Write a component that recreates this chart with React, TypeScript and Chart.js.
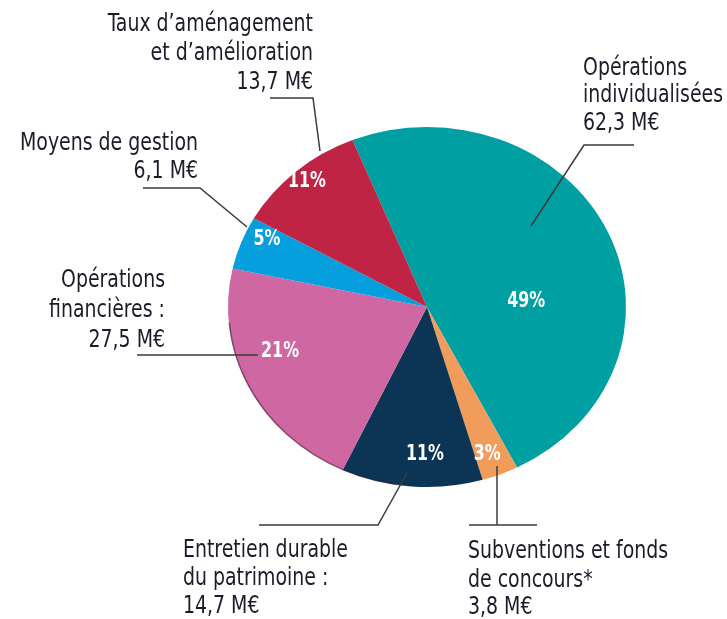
import React, { useEffect, useRef } from "react";
import { Chart, registerables } from "chart.js";

Chart.register(...registerables);

// ---- data ----
const CATEGORIES = [
  "Opérations individualisées",
  "Subventions et fonds de concours*",
  "Entretien durable du patrimoine",
  "Opérations financières",
  "Moyens de gestion",
  "Taux d’aménagement et d’amélioration",
];
const VALUES = [62.3, 3.8, 14.7, 27.5, 6.1, 13.7]; // M€
const CALLOUT_TEXT = [
  ["Opérations", "individualisées", "62,3 M€"],
  ["Subventions et fonds", "de concours*", "3,8 M€"],
  ["Entretien durable", "du patrimoine :", "14,7 M€"],
  ["Opérations", "financières :", "27,5 M€"],
  ["Moyens de gestion", "6,1 M€"],
  ["Taux d’aménagement", "et d’amélioration", "13,7 M€"],
];

// ---- styles / layout ----
const COLORS = ["#00A0A2", "#F19C5A", "#0B3455", "#CF67A2", "#069FDD", "#BF2445"];
const ROTATION = -22;
const W = 727;
const H = 619;
const CX = 427;
const CY = 307;
const RX = 199;
const RY = 180;
const YS = RY / RX;
const FONT = '"Liberation Sans Narrow", "DejaVu Sans Condensed", "Roboto Condensed", "Noto Sans", Roboto, sans-serif';
const TEXT_COLOR = "#1b1c2a";
const LINE_COLOR = "#3b3b3b";

// percent label placement: angle offset (deg) from slice mid, radius fraction
const PCT_PLACE = [
  [20.1, 0.5],
  [1.1, 0.865],
  [-3.7, 0.81],
  [8.4, 0.776],
  [4.5, 0.89],
  [0.7, 0.928],
];

// callout text: x, align, baselines
const CALLOUT_POS: [number, CanvasTextAlign, number[]][] = [
  [583, "left", [75, 102, 130]],
  [468, "left", [558, 587, 614]],
  [183, "left", [557, 585, 613]],
  [165, "right", [287, 317, 347]],
  [198, "right", [150, 178]],
  [313, "right", [31, 60, 89]],
];
const LEADERS: number[][][] = [
  [[634, 145], [584, 145], [531, 226]],
  [[469, 525], [537, 525]],
  [[259, 525], [378, 525], [407, 473]],
  [[137, 355], [258, 355]],
  [[143, 188], [200, 188], [247, 227]],
  [[270, 98], [313, 98], [320, 151]],
];
const LEADER_EXTRA: number[][][] = [[], [[497, 525], [497, 466]], [], [], [], []];

const ellipsePlugin = {
  id: "ellipse",
  beforeDatasetsDraw(chart: any) {
    const ctx = chart.ctx;
    ctx.save();
    ctx.translate(CX, CY);
    ctx.scale(1, YS);
    ctx.translate(-CX, -CY);
  },
  afterDatasetsDraw(chart: any) {
    const ctx = chart.ctx;
    const arc = chart.getDatasetMeta(0).data[0];
    if (arc) {
      const r = arc.outerRadius;
      ctx.beginPath();
      ctx.arc(arc.x, arc.y, r - 0.5, ((185 - 90) * Math.PI) / 180, ((265 - 90) * Math.PI) / 180);
      ctx.strokeStyle = "rgba(60,25,55,0.5)";
      ctx.lineWidth = 1.6;
      ctx.stroke();
    }
    ctx.restore();
  },
};

const labelPlugin = {
  id: "labels",
  afterDraw(chart: any) {
    const ctx = chart.ctx;
    const meta = chart.getDatasetMeta(0);
    const total = VALUES.reduce((a, b) => a + b, 0);

    // percent labels
    ctx.save();
    ctx.font = `bold 22px ${FONT}`;
    const pctScale = 38 / ctx.measureText("49%").width;
    meta.data.forEach((arc: any, i: number) => {
      const mid = (arc.startAngle + arc.endAngle) / 2 + (PCT_PLACE[i][0] * Math.PI) / 180;
      const r = arc.outerRadius * PCT_PLACE[i][1];
      const x = arc.x + r * Math.cos(mid);
      const y = arc.y + r * Math.sin(mid) * YS;
      const txt = Math.round((VALUES[i] / total) * 100) + "%";
      ctx.save();
      ctx.translate(x, y);
      ctx.scale(pctScale, 1);
      ctx.fillStyle = "#ffffff";
      ctx.textAlign = "center";
      ctx.textBaseline = "middle";
      ctx.fillText(txt, 0, 1);
      ctx.restore();
    });
    ctx.restore();

    // leaders
    ctx.save();
    ctx.strokeStyle = LINE_COLOR;
    ctx.lineWidth = 1.5;
    [...LEADERS, ...LEADER_EXTRA].forEach((pts) => {
      if (!pts.length) return;
      ctx.beginPath();
      ctx.moveTo(pts[0][0], pts[0][1]);
      for (let k = 1; k < pts.length; k++) ctx.lineTo(pts[k][0], pts[k][1]);
      ctx.stroke();
    });
    ctx.restore();

    // callout text
    ctx.save();
    ctx.font = `24px ${FONT}`;
    const sx = 178 / ctx.measureText("Moyens de gestion").width;
    ctx.fillStyle = TEXT_COLOR;
    ctx.textBaseline = "alphabetic";
    CALLOUT_TEXT.forEach((lines, i) => {
      const [x, align, ys] = CALLOUT_POS[i];
      lines.forEach((line, j) => {
        ctx.save();
        ctx.translate(x, ys[j]);
        ctx.scale(sx, 1);
        ctx.textAlign = align;
        ctx.fillText(line, 0, 0);
        ctx.restore();
      });
    });
    ctx.restore();
  },
};

export default function App() {
  const ref = useRef<HTMLCanvasElement>(null);
  useEffect(() => {
    if (!ref.current) return;
    const chart = new Chart(ref.current, {
      type: "pie",
      data: {
        labels: CATEGORIES,
        datasets: [
          {
            data: VALUES,
            backgroundColor: COLORS,
            borderWidth: 0,
          },
        ],
      },
      options: {
        responsive: false,
        animation: false,
        rotation: ROTATION,
        layout: {
          padding: {
            left: CX - RX,
            right: W - (CX + RX),
            top: CY - RX,
            bottom: H - (CY + RX),
          },
        },
        plugins: {
          legend: { display: false },
          tooltip: { enabled: false },
        },
      },
      plugins: [ellipsePlugin, labelPlugin],
    });
    return () => chart.destroy();
  }, []);
  return (
    <div style={{ position: "fixed", left: 0, top: 0, width: W, height: H, background: "#fff" }}>
      <canvas ref={ref} width={W} height={H} style={{ width: W, height: H, display: "block" }} />
    </div>
  );
}
